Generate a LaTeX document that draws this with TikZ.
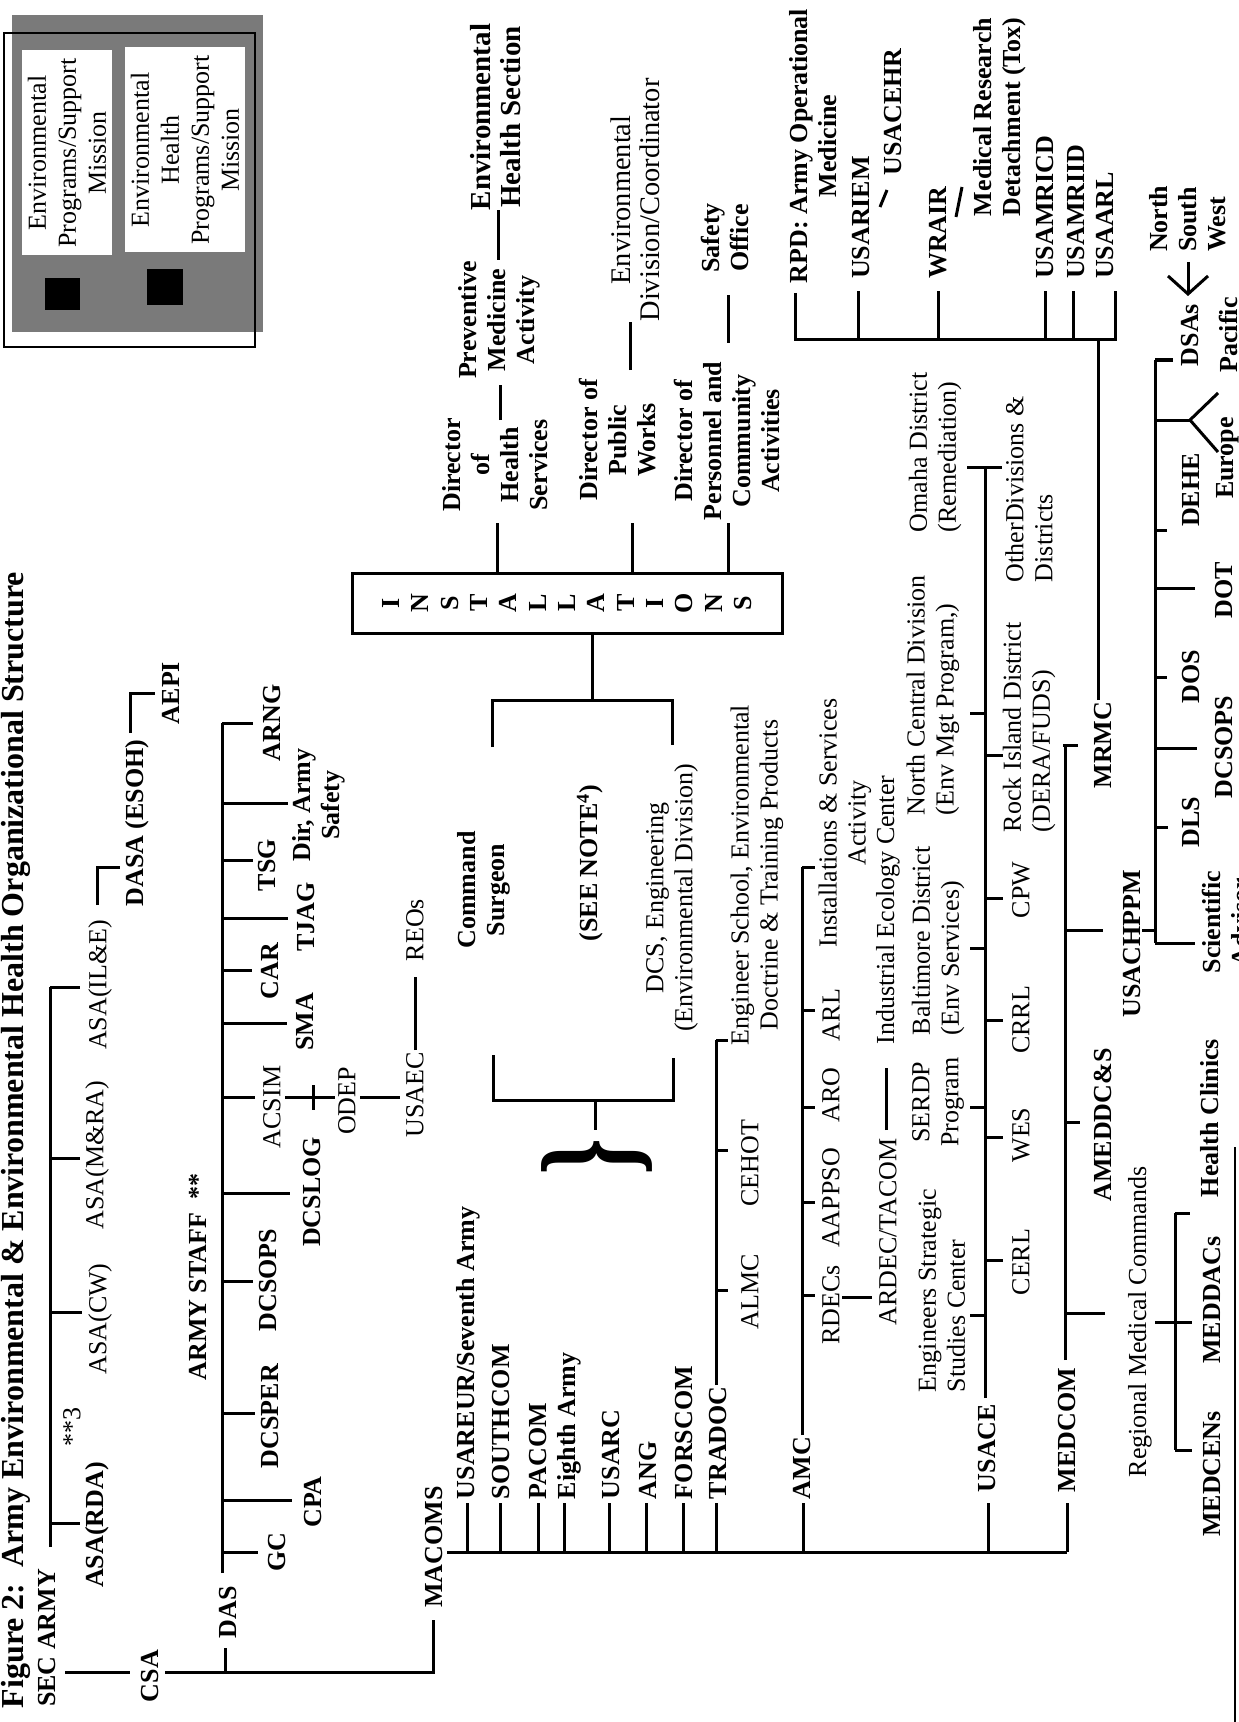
\documentclass[tikz,border=0pt]{standalone}
\usepackage{fontspec}
\setmainfont{Liberation Serif}
\usetikzlibrary{arrows.meta}
\begin{document}
\begin{tikzpicture}[x=0.5pt,y=-0.5pt,
  every node/.style={inner sep=0pt,outer sep=0pt},
  tb/.style={rotate=90,align=center,font=\fontsize{13}{14.5}\selectfont\bfseries},
  tr/.style={rotate=90,align=center,font=\fontsize{13}{14.5}\selectfont},
  tleg/.style={rotate=90,align=center,font=\fontsize{13}{15}\selectfont},
  ln/.style={line width=1.5pt},
]
\useasboundingbox (0,0) rectangle (1238,1722);
% ---------- legend ----------
\fill[black!52] (12,15) rectangle (263,332);
\fill[white] (22,50) rectangle (112,255);
\fill[white] (125,47) rectangle (245,252);
\fill[black] (45,278) rectangle (80,310);
\fill[black] (147,269) rectangle (183,305);
\draw[line width=1.2pt] (4,33) rectangle (255,347);
\node[tleg] (leg1) at (67,153) {Environmental\\Programs/Support\\Mission};
\node[tleg] (leg2) at (185,150) {Environmental\\Health\\Programs/Support\\Mission};
% ---------- title ----------
\node[rotate=90,anchor=base,font=\fontsize{16}{18}\selectfont\bfseries] (title) at (23,1140)
  {Figure 2:\ \ Army Environmental \& Environmental Health Organizational Structure};
% ---------- secretariat ----------
\node[tb] (secarmy) at (47,1638) {SEC ARMY};
\node[tb] (csa) at (150,1676) {CSA};
\node[tb] (das) at (228,1612) {DAS};
\node[tb] (macoms) at (434,1547) {MACOMS};
\node[tb] (asarda) at (97,1525) {ASA(RDA)};
\node[tr] (note3) at (72,1427) {**3};
\node[tr] (asacw) at (100,1319) {ASA(CW)};
\node[tr] (asamra) at (97,1155) {ASA(M\&RA)};
\node[tr] (asaile) at (100,985) {ASA(IL\&E)};
\node[tb] (dasa) at (137,823) {DASA (ESOH)};
\node[tb] (aepi) at (171,693) {AEPI};
\draw[ln] (50,1547) -- (50,987);
\foreach \yy/\xe in {1523/80,1312/82,1158/80,987/80} \draw[ln] (50,\yy) -- (\xe,\yy);
\draw[ln] (97,905) -- (97,867) -- (120,867);
\draw[ln] (130,733) -- (130,693) -- (155,693);
\draw[ln] (65,1672) -- (130,1672);
\draw[ln] (165,1672) -- (433,1672) -- (433,1620);
\draw[ln] (225,1672) -- (225,1648);
% ---------- army staff ----------
\node[tb] (armystaff) at (198,1277) {ARMY STAFF\ \ **};
\node[tb] (gc) at (277,1552) {GC};
\node[tb] (cpa) at (313,1502) {CPA};
\node[tb] (dcsper) at (270,1416) {DCSPER};
\node[tb] (dcsops) at (268,1280) {DCSOPS};
\node[tb] (dcslog) at (312,1192) {DCSLOG};
\node[tr] (acsim) at (272,1107) {ACSIM};
\node[tr] (odep) at (347,1101) {ODEP};
\node[tr] (usaec) at (415,1095) {USAEC};
\node[tr] (reos) at (415,930) {REOs};
\node[tb] (sma) at (305,1022) {SMA};
\node[tb] (car) at (270,971) {CAR};
\node[tb] (tjag) at (306,917) {TJAG};
\node[tb] (tsg) at (267,865) {TSG};
\node[tb] (dirsafety) at (319,805) {Dir, Army\\Safety};
\node[tb] (arng) at (272,723) {ARNG};
\draw[ln] (222,1573) -- (222,723);
\foreach \yy/\xe in {1552/258,1500/292,1413/255,1281/253,1193/290,1097/255,1023/287,970/252,918/288,860/253,803/288,723/253}
  \draw[ln] (222,\yy) -- (\xe,\yy);
\draw[ln] (285,1097) -- (335,1097);
\draw[ln] (313,1085) -- (313,1110);
\draw[ln] (360,1097) -- (400,1097);
\draw[ln] (415,1050) -- (415,977);
% ---------- MACOMS ----------
\draw[ln] (447,1552) -- (1067,1552);
\foreach \xx in {467,500,538,564,609,646,683,716,803,988,1067} \draw[ln] (\xx,1552) -- (\xx,1503);
\node[tb,anchor=west] (usareur) at (468,1499) {USAREUR/Seventh Army};
\node[tb,anchor=west] (southcom) at (501,1499) {SOUTHCOM};
\node[tb,anchor=west] (pacom) at (538,1499) {PACOM};
\node[tb,anchor=west] (eighth) at (569,1499) {Eighth Army};
\node[tb,anchor=west] (usarc) at (611,1499) {USARC};
\node[tb,anchor=west] (ang) at (648,1499) {ANG};
\node[tb,anchor=west] (forscom) at (684,1499) {FORSCOM};
\node[tb,anchor=west] (tradoc) at (718,1499) {TRADOC};
\node[tb,anchor=west] (amc) at (802,1499) {AMC};
\node[tb,anchor=west] (usace) at (987,1492) {USACE};
\node[tb,anchor=west] (medcom) at (1067,1492) {MEDCOM};
% TRADOC
\draw[ln] (716,1385) -- (716,1040);
\foreach \yy in {1290,1150,1040} \draw[ln] (716,\yy) -- (728,\yy);
\node[tr] (almc) at (750,1292) {ALMC};
\node[tr] (cehot) at (750,1163) {CEHOT};
\node[tr] (engschool) at (757,875) {Engineer School, Environmental\\Doctrine \& Training Products};
% AMC
\draw[ln] (802,1435) -- (802,867);
\foreach \yy in {1295,1202,1107,1010,867} \draw[ln] (802,\yy) -- (815,\yy);
\node[tr] (rdecs) at (831,1305) {RDECs};
\node[tr] (aappso) at (831,1198) {AAPPSO};
\node[tr] (aro) at (831,1095) {ARO};
\node[tr] (arl) at (831,1015) {ARL};
\node[tr] (isa) at (845,823) {Installations \& Services\\Activity};
\node[tr] (ardec) at (888,1232) {ARDEC/TACOM};
\node[tr] (iec) at (888,910) {Industrial Ecology Center};
\draw[ln] (842,1297) -- (872,1297);
\draw[ln] (886,1130) -- (886,1068);
% USACE
\draw[ln] (985,1398) -- (985,467);
\draw[ln] (967,467) -- (1002,467);
\foreach \yy in {1315,1107,948,713} \draw[ln] (985,\yy) -- (970,\yy);
\foreach \yy in {1260,1137,1020,898,755} \draw[ln] (985,\yy) -- (1003,\yy);
\node[tr,anchor=west,align=left] (essc) at (942,1392) {Engineers Strategic\\Studies Center};
\node[tr] (serdp) at (938,1102) {SERDP\\Program};
\node[tr,anchor=west,align=left] (baltimore) at (938,1035) {Baltimore District\\(Env Services)};
\node[tr,anchor=west,align=left] (ncd) at (933,815) {North Central Division\\(Env Mgt Program,)};
\node[tr,anchor=west,align=left] (omaha) at (935,532) {Omaha District\\(Remediation)};
\node[tr] (cerl) at (1021,1262) {CERL};
\node[tr] (wes) at (1021,1135) {WES};
\node[tr] (crrl) at (1021,1020) {CRRL};
\node[tr] (cpw) at (1021,890) {CPW};
\node[tr,anchor=west,align=left] (rockisland) at (1029,832) {Rock Island District\\(DERA/FUDS)};
\node[tr,anchor=west,align=left] (otherdiv) at (1029,582) {OtherDivisions \&\\Districts};
% MEDCOM
\draw[ln] (1065,1360) -- (1065,745);
\draw[ln] (1065,1313) -- (1105,1313);
\draw[ln] (1065,1122) -- (1080,1122);
\draw[ln] (1065,930) -- (1103,930);
\draw[ln] (1063,745) -- (1078,745);
\node[tr] (rmc) at (1140,1322) {Regional Medical Commands};
\node[tb] (ameddcs) at (1103,1125) {AMEDDC\&S};
\node[tb] (usachppm) at (1132,944) {USACHPPM};
\node[tb] (mrmc) at (1103,745) {MRMC};
\draw[ln] (1175,1213) -- (1175,1450);
\draw[ln] (1155,1322) -- (1192,1322);
\draw[ln] (1175,1213) -- (1190,1213);
\draw[ln] (1175,1450) -- (1192,1450);
\node[tb] (medcens) at (1212,1474) {MEDCENs};
\node[tb] (meddacs) at (1212,1300) {MEDDACs};
\node[tb] (clinics) at (1210,1118) {Health Clinics};
% USACHPPM
\draw[ln] (1142,930) -- (1155,930);
\draw[ln] (1155,943) -- (1155,360);
\foreach \yy/\xe in {943/1195,827/1168,748/1197,677/1167,588/1195,530/1167,420/1190,360/1173}
  \draw[ln] (1155,\yy) -- (\xe,\yy);
\draw[ln] (1190,420) -- (1218,393);
\draw[ln] (1190,420) -- (1218,452);
\node[tb] (dls) at (1191,822) {DLS};
\node[tb] (dcsops2) at (1224,747) {DCSOPS};
\node[tb] (dos) at (1191,677) {DOS};
\node[tb] (dot) at (1224,590) {DOT};
\node[tb] (dehe) at (1191,490) {DEHE};
\node[tb] (sciadv) at (1226,922) {Scientific\\Advisor};
\node[tb] (dsas) at (1190,335) {DSAs};
\node[tb] (pacific) at (1228,335) {Pacific};
\node[tb] (europe) at (1228,458) {Europe};
\node[tb,anchor=west,align=left] (nsw) at (1188,252) {North\\South\\West};
\draw[ln,-{Straight Barb[length=9pt,width=20pt,line width=1.5pt]}] (1188,262) -- (1188,296);
% MRMC / RPD
\draw[ln] (1098,700) -- (1098,340);
\draw[ln] (795,293) -- (795,340) -- (1117,340);
\foreach \xx in {858,938,1045,1073,1115} \draw[ln] (\xx,340) -- (\xx,291);
\node[tb] (rpd) at (813,146) {RPD: Army Operational\\Medicine};
\node[tb,anchor=west] (usariem) at (861,279) {USARIEM};
\node[tb] (usacehr) at (893,112) {USACEHR};
\draw[ln] (880,207) -- (887,190);
\node[tb,anchor=west] (wrair) at (938,279) {WRAIR};
\draw[ln] (956,217) -- (962,187);
\node[tb] (mrd) at (1000,117) {Medical Research\\Detachment (Tox)};
\node[tb,anchor=west] (usamricd) at (1045,279) {USAMRICD};
\node[tb,anchor=west] (usamriid) at (1076,279) {USAMRIID};
\node[tb,anchor=west] (usaarl) at (1105,279) {USAARL};
% border line
\draw[line width=1pt] (1235,1147) -- (1235,1722);
% ---------- installations ----------
\node[draw,line width=1.5pt,rotate=90,minimum width=30pt,minimum height=215pt,
  font=\fontsize{13}{14.67}\selectfont\bfseries,align=center] (inst) at (567,603)
  {I\\N\\S\\T\\A\\L\\L\\A\\T\\I\\O\\N\\S};
\foreach \xx in {497,632,728} \draw[ln] (\xx,573) -- (\xx,523);
\node[tb] (dhs) at (495,465) {Director\\of\\Health\\Services};
\draw[ln] (500,420) -- (500,385);
\node[tb] (pma) at (499,320) {Preventive\\Medicine\\Activity};
\draw[ln] (498,260) -- (498,210);
\node[rotate=90,align=center,font=\fontsize{14.5}{15}\selectfont\bfseries] (ehs) at (496,117) {Environmental\\Health Section};
\node[tb] (dpw) at (618,440) {Director of\\Public\\Works};
\draw[ln] (630,370) -- (630,322);
\node[rotate=90,align=center,font=\fontsize{14.2}{14.5}\selectfont] (envdiv) at (635,200) {Environmental\\Division/Coordinator};
\node[tb] (dpca) at (727,441) {Director of\\Personnel and\\Community\\Activities};
\draw[ln] (728,343) -- (728,295);
\node[tb] (safety) at (725,238) {Safety\\Office};
\draw[ln] (592,633) -- (592,700);
\draw[ln] (492,747) -- (492,700) -- (672,700) -- (672,745);
\node[tb] (cmdsurg) at (484,890) {Command\\Surgeon};
\node[tb] (seenote) at (590,863) {(SEE NOTE\textsuperscript{4})};
\node[tr] (dcseng) at (672,898) {DCS, Engineering\\(Environmental Division)};
\draw[ln] (493,1055) -- (493,1100) -- (673,1100) -- (673,1058);
\draw[ln] (595,1100) -- (595,1130);
\node[rotate=90] (brace) at (597,1157) {\scalebox{0.7}[1]{\fontsize{67}{67}\selectfont\bfseries\}}};
\end{tikzpicture}
\end{document}
